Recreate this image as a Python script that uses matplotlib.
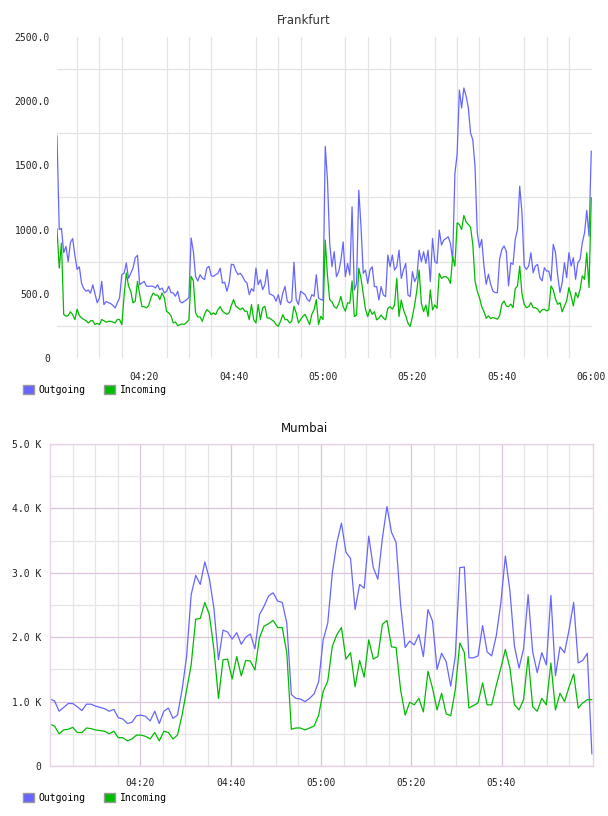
import matplotlib.pyplot as plt
import matplotlib.dates as mdates
from matplotlib.patches import Patch
import pandas as pd

# Frankfurt, 30 s samples 04:00:30 .. 06:00
fra_out = [
    1730, 1000, 1010, 820, 870, 750, 900, 930, 800, 690,
    710, 580, 540, 520, 530, 505, 570, 500, 430, 468,
    597, 416, 440, 430, 424, 410, 390, 430, 470, 650,
    660, 740, 620, 660, 700, 780, 800, 571, 584, 597,
    560, 558, 560, 558, 545, 571, 532, 545, 506, 520,
    558, 510, 506, 481, 520, 442, 429, 442, 455, 470,
    935, 830, 636, 600, 649, 623, 610, 700, 714, 640,
    636, 649, 660, 700, 584, 590, 520, 584, 730, 727,
    680, 649, 660, 636, 600, 584, 493, 540, 520, 700,
    571, 610, 532, 571, 688, 500, 493, 481, 442, 493,
    416, 506, 558, 442, 429, 442, 745, 455, 416, 520,
    506, 493, 455, 442, 493, 481, 649, 468, 455, 450,
    1649, 1385, 892, 711, 828, 633, 672, 760, 905, 633,
    737, 646, 1177, 530, 581, 1307, 1022, 659, 685, 581,
    685, 711, 556, 556, 452, 556, 491, 478, 802, 711,
    802, 685, 711, 840, 620, 685, 737, 491, 478, 672,
    595, 633, 840, 750, 828, 737, 840, 595, 931, 750,
    737, 996, 880, 918, 931, 944, 892, 763, 1436, 1589,
    2087, 1947, 2103, 2040, 1950, 1752, 1700, 1493, 975, 859,
    924, 716, 574, 652, 574, 522, 509, 509, 768, 846,
    872, 833, 561, 742, 729, 924, 1001, 1338, 1131, 716,
    690, 716, 820, 664, 716, 729, 626, 600, 703, 677,
    677, 600, 885, 820, 639, 509, 587, 742, 626, 820,
    716, 781, 613, 742, 768, 898, 975, 1150, 949, 1610,
]
fra_in = [
    1004, 700, 895, 340, 325, 330, 360, 338, 299, 380,
    330, 312, 300, 290, 273, 290, 291, 260, 270, 260,
    300, 290, 278, 286, 286, 280, 273, 300, 299, 260,
    481, 662, 560, 520, 429, 442, 597, 493, 400, 400,
    390, 410, 468, 506, 490, 490, 455, 506, 470, 364,
    351, 330, 273, 280, 252, 260, 265, 262, 278, 297,
    636, 600, 351, 320, 320, 286, 340, 377, 364, 338,
    351, 338, 377, 400, 364, 351, 340, 351, 410, 455,
    403, 390, 377, 390, 364, 364, 299, 416, 299, 273,
    416, 299, 390, 403, 312, 312, 299, 286, 260, 247,
    286, 338, 299, 299, 273, 286, 403, 351, 273, 299,
    325, 340, 299, 260, 340, 377, 455, 260, 325, 300,
    918, 640, 452, 439, 400, 387, 420, 480, 400, 365,
    430, 426, 600, 323, 335, 700, 620, 500, 380, 323,
    380, 340, 361, 297, 310, 335, 310, 297, 387, 400,
    380, 413, 620, 323, 452, 374, 330, 271, 245, 323,
    413, 530, 685, 426, 361, 413, 323, 530, 374, 413,
    387, 659, 620, 633, 633, 620, 581, 789, 716, 1053,
    1040, 1001, 1110, 1060, 1040, 1020, 885, 600, 520, 470,
    400, 360, 310, 328, 307, 315, 310, 302, 328, 420,
    444, 405, 400, 420, 392, 540, 561, 716, 500, 418,
    392, 400, 431, 392, 392, 380, 354, 375, 380, 367,
    375, 561, 530, 460, 418, 431, 360, 405, 444, 548,
    483, 405, 509, 470, 535, 639, 613, 820, 548, 1247,
]

# Mumbai, 1 min samples, values in K
mum_out = [
    1.04, 1.01, 0.85, 0.91, 0.97, 0.97, 0.92, 0.86, 0.96, 0.96,
    0.93, 0.91, 0.89, 0.85, 0.88, 0.75, 0.73, 0.66, 0.68, 0.78,
    0.79, 0.77, 0.70, 0.85, 0.66, 0.85, 0.90, 0.74, 0.79, 1.18,
    1.70, 2.66, 2.96, 2.82, 3.17, 2.91, 2.45, 1.65, 2.11, 2.08,
    1.97, 2.07, 1.89, 2.00, 2.05, 1.82, 2.35, 2.48, 2.64, 2.69,
    2.56, 2.54, 2.22, 1.11, 1.05, 1.04, 1.00, 1.05, 1.12, 1.31,
    1.96, 2.22, 3.00, 3.47, 3.77, 3.32, 3.22, 2.43, 2.82, 2.76,
    3.57, 3.08, 2.90, 3.54, 4.03, 3.63, 3.47, 2.50, 1.84, 1.94,
    1.88, 2.04, 1.70, 2.43, 2.25, 1.50, 1.75, 1.62, 1.24, 1.70,
    3.08, 3.09, 1.68, 1.68, 1.71, 2.18, 1.77, 1.71, 2.02, 2.53,
    3.26, 2.72, 1.86, 1.52, 1.82, 2.66, 1.77, 1.45, 1.76, 1.57,
    2.65, 1.40, 1.85, 1.76, 2.12, 2.54, 1.60, 1.64, 1.75, 0.19,
]
mum_in = [
    0.65, 0.62, 0.50, 0.56, 0.57, 0.60, 0.52, 0.52, 0.59, 0.58,
    0.56, 0.55, 0.54, 0.50, 0.54, 0.44, 0.44, 0.39, 0.42, 0.48,
    0.48, 0.46, 0.42, 0.52, 0.39, 0.54, 0.52, 0.42, 0.48, 0.79,
    1.18, 1.57, 2.28, 2.29, 2.54, 2.35, 1.81, 1.05, 1.65, 1.66,
    1.35, 1.70, 1.40, 1.64, 1.63, 1.49, 1.99, 2.17, 2.21, 2.26,
    2.15, 2.15, 1.76, 0.57, 0.59, 0.59, 0.56, 0.59, 0.62, 0.79,
    1.16, 1.32, 1.86, 2.04, 2.15, 1.66, 1.76, 1.23, 1.64, 1.38,
    1.96, 1.66, 1.70, 2.20, 2.26, 1.85, 1.84, 1.18, 0.79, 0.99,
    0.95, 1.05, 0.84, 1.47, 1.21, 0.87, 1.13, 0.81, 0.78, 1.18,
    1.91, 1.76, 0.90, 0.94, 0.98, 1.29, 0.95, 0.95, 1.25, 1.52,
    1.81, 1.52, 0.95, 0.87, 1.03, 1.70, 0.92, 0.85, 1.05, 0.95,
    1.60, 0.87, 1.13, 1.00, 1.23, 1.43, 0.90, 0.98, 1.03, 1.03,
]

fra_yticks = [0, 500, 1000, 1500, 2000, 2500]
fra_ylabels = ["0", "500.0", "1000.0", "1500.0", "2000.0", "2500.0"]
mum_yticks = [0, 1, 2, 3, 4, 5]
mum_ylabels = ["0", "1.0 K", "2.0 K", "3.0 K", "4.0 K", "5.0 K"]

OUT_C = "#6666ff"
IN_C = "#00bb00"
MONO = "DejaVu Sans Mono"

fra_t = pd.date_range("2024-01-01 04:00:30", "2024-01-01 06:00:00", periods=len(fra_out))
mum_t = pd.date_range("2024-01-01 04:00:00", "2024-01-01 06:00:00", periods=len(mum_out))

fig = plt.figure(figsize=(6.08, 8.16), dpi=100)

# ---- Frankfurt
ax1 = fig.add_axes([57 / 608, 1 - 358 / 816, 535 / 608, 321 / 816])
ax1.plot(fra_t, fra_out, color=OUT_C, lw=0.9)
ax1.plot(fra_t, fra_in, color=IN_C, lw=0.9)
ax1.set_xlim(fra_t[0], pd.Timestamp("2024-01-01 06:00:10"))
ax1.set_ylim(0, 2500)
ax1.set_yticks(fra_yticks, fra_ylabels)
ax1.set_yticks([250, 750, 1250, 1750, 2250], minor=True)
ax1.xaxis.set_major_locator(mdates.MinuteLocator(byminute=[0, 20, 40]))
ax1.xaxis.set_major_formatter(mdates.DateFormatter("%H:%M"))
ax1.xaxis.set_minor_locator(mdates.MinuteLocator(byminute=range(0, 60, 5)))
ax1.grid(True, which="minor", color="#e4e4e4", lw=0.9)
ax1.grid(False, which="major")
for s in ax1.spines.values():
    s.set_visible(False)
ax1.tick_params(which="both", length=0)
ax1.tick_params(axis="y", pad=5)
ax1.tick_params(axis="x", pad=10)
ax1.set_axisbelow(True)

# ---- Mumbai
ax2 = fig.add_axes([50 / 608, 1 - 766 / 816, 543 / 608, 322 / 816])
ax2.plot(mum_t, mum_out, color=OUT_C, lw=0.9)
ax2.plot(mum_t, mum_in, color=IN_C, lw=0.9)
ax2.set_xlim(mum_t[0], pd.Timestamp("2024-01-01 06:00:15"))
ax2.set_ylim(0, 5)
ax2.set_yticks(mum_yticks, mum_ylabels)
ax2.set_yticks([0.5, 1.5, 2.5, 3.5, 4.5], minor=True)
major_x = pd.to_datetime(["2024-01-01 04:20", "2024-01-01 04:40", "2024-01-01 05:00",
                          "2024-01-01 05:20", "2024-01-01 05:40"])
ax2.set_xticks(major_x)
ax2.xaxis.set_major_formatter(mdates.DateFormatter("%H:%M"))
ax2.xaxis.set_minor_locator(mdates.MinuteLocator(byminute=[5, 10, 15, 25, 30, 35, 45, 50, 55]))
ax2.grid(True, which="minor", color="#e6e6e6", lw=0.9)
ax2.grid(True, which="major", color="#dcc4dc", lw=0.9)
for s in ax2.spines.values():
    s.set_color("#e6d4e6")
    s.set_linewidth(1.0)
ax2.tick_params(which="both", length=0)
ax2.tick_params(axis="y", pad=6)
ax2.tick_params(axis="x", pad=9)
ax2.set_axisbelow(True)

for ax in (ax1, ax2):
    for lab in ax.get_xticklabels() + ax.get_yticklabels():
        lab.set_fontfamily(MONO)
        lab.set_fontsize(7)
        lab.set_color("#222222")

fig.text(0.5, 1 - 20 / 816, "Frankfurt", ha="center", va="center", fontsize=8.5, color="#333333")
fig.text(0.5, 1 - 429 / 816, "Mumbai", ha="center", va="center", fontsize=8.5, color="#111111")

handles = [Patch(facecolor=OUT_C, edgecolor="#999999"), Patch(facecolor=IN_C, edgecolor="#999999")]
for ytop in (385, 793):
    fig.legend(handles, ["Outgoing", "Incoming"], loc="upper left",
               bbox_to_anchor=(23 / 608, 1 - ytop / 816), ncol=2, frameon=False,
               prop={"family": MONO, "size": 7}, handlelength=1.1, handleheight=1.1,
               handletextpad=0.5, columnspacing=1.9, borderaxespad=0, borderpad=0)

fig.savefig("out.png", dpi=100)
